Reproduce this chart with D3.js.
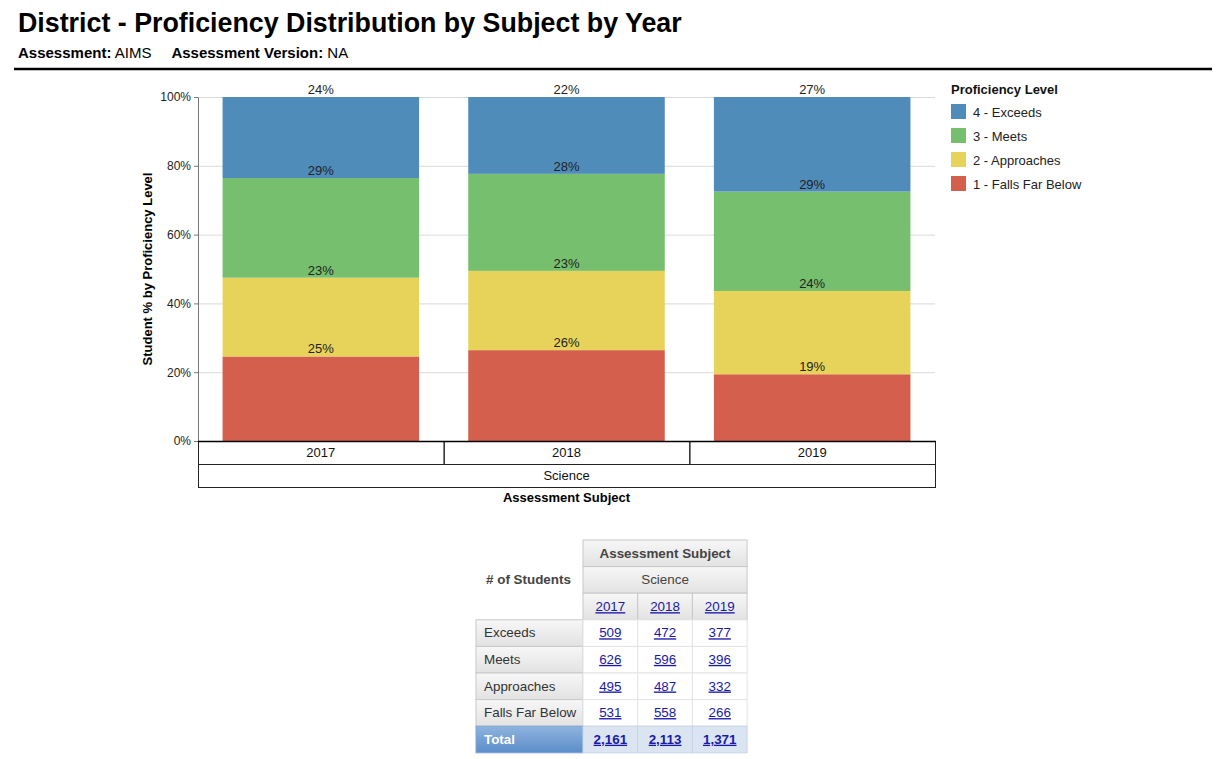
<!DOCTYPE html>
<html>
<head>
<meta charset="utf-8">
<script src="https://cdn.jsdelivr.net/npm/d3@7"></script>
<style>
  body { margin: 0; background: #fff; font-family: "Liberation Sans", Arial, sans-serif; }
  svg text { font-family: "Liberation Sans", Arial, sans-serif; }
</style>
</head>
<body>
<svg id="chart" width="1228" height="759"></svg>
<script>
// data
const years = ["2017", "2018", "2019"];
const subject = "Science";
const levels = ["Falls Far Below", "Approaches", "Meets", "Exceeds"];
const legendLabels = ["4 - Exceeds", "3 - Meets", "2 - Approaches", "1 - Falls Far Below"];
const levelColors = ["#d45f4c", "#e8d35a", "#76bf6e", "#4f8cba"];
const exceeds = [509, 472, 377];
const meets = [626, 596, 396];
const approaches = [495, 487, 332];
const fallsFarBelow = [531, 558, 266];
const totals = ["2,161", "2,113", "1,371"];
const yTicks = [0, 0.2, 0.4, 0.6, 0.8, 1];

const svg = d3.select("#chart");

// header
svg.append("text").attr("x", 18).attr("y", 32)
  .attr("font-size", 26.8).attr("font-weight", "bold").attr("fill", "#000")
  .text("District - Proficiency Distribution by Subject by Year");

const sub = svg.append("text").attr("x", 18).attr("y", 58).attr("font-size", 15).attr("fill", "#000");
sub.append("tspan").attr("font-weight", "bold").text("Assessment:");
sub.append("tspan").text(" AIMS");
sub.append("tspan").attr("dx", 20).attr("font-weight", "bold").text("Assessment Version:");
sub.append("tspan").text(" NA");

svg.append("line").attr("x1", 14).attr("x2", 1212).attr("y1", 69).attr("y2", 69)
  .attr("stroke", "#000").attr("stroke-width", 2.5);

// chart
const plot = { left: 198, right: 935, top: 97, bottom: 441 };

const counts = years.map((yr, i) => ({
  year: yr,
  "Falls Far Below": fallsFarBelow[i],
  "Approaches": approaches[i],
  "Meets": meets[i],
  "Exceeds": exceeds[i],
}));
const pct = counts.map((d) => {
  const t = d3.sum(levels, (k) => d[k]);
  const o = { year: d.year };
  levels.forEach((k) => (o[k] = d[k] / t));
  return o;
});

const x = d3.scaleBand().domain(years).range([plot.left, plot.right]).paddingInner(0.2).paddingOuter(0.1);
const xBox = d3.scaleBand().domain(years).range([plot.left, plot.right]);
const y = d3.scaleLinear().domain([0, 1]).range([plot.bottom, plot.top]);
const color = d3.scaleOrdinal().domain(levels).range(levelColors);

// gridlines
svg.append("g").selectAll("line").data(yTicks.filter((t) => t > 0)).join("line")
  .attr("x1", plot.left).attr("x2", plot.right)
  .attr("y1", (d) => y(d) + 0.5).attr("y2", (d) => y(d) + 0.5)
  .attr("stroke", "#d9d9d9");

// y axis
const yAxis = svg.append("g").attr("transform", `translate(${plot.left},0)`)
  .call(d3.axisLeft(y).tickValues(yTicks).tickFormat(d3.format(".0%")).tickSize(4).tickSizeOuter(0));
yAxis.select(".domain").attr("stroke", "#777");
yAxis.selectAll(".tick line").attr("stroke", "#777");
yAxis.selectAll(".tick text").attr("font-size", 12).attr("fill", "#222").attr("font-family", null);

svg.append("text")
  .attr("transform", `translate(152, ${(plot.top + plot.bottom) / 2}) rotate(-90)`)
  .attr("text-anchor", "middle").attr("font-size", 13).attr("font-weight", "bold").attr("fill", "#000")
  .text("Student % by Proficiency Level");

// stacked bars
const series = d3.stack().keys(levels)(pct);
const layers = svg.append("g").selectAll("g").data(series).join("g")
  .attr("fill", (s) => color(s.key));
layers.selectAll("rect").data((s) => s).join("rect")
  .attr("x", (d) => x(d.data.year))
  .attr("width", x.bandwidth())
  .attr("y", (d) => y(d[1]))
  .attr("height", (d) => y(d[0]) - y(d[1]));

// segment labels sit just above each segment top
svg.append("g").selectAll("g").data(series).join("g")
  .selectAll("text").data((s) => s.map((d) => ({ d, key: s.key }))).join("text")
  .attr("x", (o) => x(o.d.data.year) + x.bandwidth() / 2)
  .attr("y", (o) => y(o.d[1]) - 3)
  .attr("text-anchor", "middle").attr("font-size", 13).attr("fill", "#222")
  .text((o) => d3.format(".0%")(o.d.data[o.key]));

// category boxes
const boxH = 23;
svg.append("g").selectAll("rect").data(years).join("rect")
  .attr("x", (d) => xBox(d) + 0.5).attr("y", plot.bottom + 0.5)
  .attr("width", xBox.bandwidth()).attr("height", boxH)
  .attr("fill", "none").attr("stroke", "#222");
svg.append("g").selectAll("text").data(years).join("text")
  .attr("x", (d) => xBox(d) + xBox.bandwidth() / 2).attr("y", plot.bottom + 16)
  .attr("text-anchor", "middle").attr("font-size", 13).attr("fill", "#111").text((d) => d);
svg.append("rect").attr("x", plot.left + 0.5).attr("y", plot.bottom + boxH + 0.5)
  .attr("width", plot.right - plot.left).attr("height", boxH)
  .attr("fill", "none").attr("stroke", "#222");
svg.append("text").attr("x", (plot.left + plot.right) / 2).attr("y", plot.bottom + boxH + 16)
  .attr("text-anchor", "middle").attr("font-size", 13).attr("fill", "#111").text(subject);
svg.append("line").attr("x1", plot.left).attr("x2", plot.right + 1)
  .attr("y1", plot.bottom + 0.5).attr("y2", plot.bottom + 0.5).attr("stroke", "#000").attr("stroke-width", 1.5);
svg.append("text").attr("x", (plot.left + plot.right) / 2).attr("y", 502)
  .attr("text-anchor", "middle").attr("font-size", 13).attr("font-weight", "bold").attr("fill", "#000")
  .text("Assessment Subject");

// legend
const legend = svg.append("g").attr("transform", "translate(951,0)");
legend.append("text").attr("x", 0).attr("y", 94).attr("font-size", 13).attr("font-weight", "bold")
  .attr("fill", "#111").text("Proficiency Level");
const legItems = legend.selectAll("g.item").data(legendLabels).join("g").attr("class", "item")
  .attr("transform", (d, i) => `translate(0, ${104 + i * 24})`);
legItems.append("rect").attr("width", 15).attr("height", 15)
  .attr("fill", (d, i) => levelColors[levelColors.length - 1 - i]);
legItems.append("text").attr("x", 22).attr("y", 12.5).attr("font-size", 13).attr("fill", "#222").text((d) => d);

// table
const defs = svg.append("defs");
const grad = (id, c0, c1) => {
  const g = defs.append("linearGradient").attr("id", id).attr("x1", 0).attr("x2", 0).attr("y1", 0).attr("y2", 1);
  g.append("stop").attr("offset", "0%").attr("stop-color", c0);
  g.append("stop").attr("offset", "100%").attr("stop-color", c1);
};
grad("hdr", "#f7f7f7", "#e2e2e2");
grad("tot", "#8fb3de", "#5b8dc9");

const tbl = { left: 476, rowHeadW: 107, colW: 54.7, top: 540, rowH: 26.6 };
const colX = d3.scaleBand().domain(years).range([tbl.left + tbl.rowHeadW, tbl.left + tbl.rowHeadW + tbl.colW * 3]);
const rowNames = ["Exceeds", "Meets", "Approaches", "Falls Far Below", "Total"];
const rowVals = [exceeds, meets, approaches, fallsFarBelow, totals];
const rowY = d3.scaleBand().domain(rowNames).range([tbl.top + tbl.rowH * 3, tbl.top + tbl.rowH * 8]);
const tg = svg.append("g");
const c0 = colX(years[0]);
const tw = tbl.colW * 3;
const fs = 13.4;

// header rows
[["Assessment Subject", true], [subject, false]].forEach(([label, bold], i) => {
  tg.append("rect").attr("x", c0).attr("y", tbl.top + i * tbl.rowH).attr("width", tw).attr("height", tbl.rowH)
    .attr("fill", "url(#hdr)").attr("stroke", "#c8c8c8");
  tg.append("text").attr("x", c0 + tw / 2).attr("y", tbl.top + i * tbl.rowH + 17.5)
    .attr("text-anchor", "middle").attr("font-size", fs).attr("font-weight", bold ? "bold" : null)
    .attr("fill", "#444").text(label);
});
years.forEach((yr) => {
  tg.append("rect").attr("x", colX(yr)).attr("y", tbl.top + 2 * tbl.rowH).attr("width", colX.bandwidth()).attr("height", tbl.rowH)
    .attr("fill", "url(#hdr)").attr("stroke", "#c8c8c8");
  tg.append("text").attr("x", colX(yr) + colX.bandwidth() / 2).attr("y", tbl.top + 2 * tbl.rowH + 18)
    .attr("text-anchor", "middle").attr("font-size", fs).attr("fill", "#1a1aa8")
    .attr("text-decoration", "underline").text(yr);
});
tg.append("text").attr("x", tbl.left + tbl.rowHeadW / 2 - 1).attr("y", tbl.top + tbl.rowH * 1.5 + 4)
  .attr("text-anchor", "middle").attr("font-size", fs).attr("font-weight", "bold").attr("fill", "#444")
  .text("# of Students");

// body rows
rowNames.forEach((name, r) => {
  const isTot = name === "Total";
  const yy = rowY(name);
  tg.append("rect").attr("x", tbl.left).attr("y", yy).attr("width", tbl.rowHeadW).attr("height", tbl.rowH)
    .attr("fill", isTot ? "url(#tot)" : "url(#hdr)").attr("stroke", isTot ? "#7fa5d3" : "#c8c8c8");
  tg.append("text").attr("x", tbl.left + 8).attr("y", yy + 17.5).attr("font-size", fs)
    .attr("font-weight", isTot ? "bold" : null).attr("fill", isTot ? "#fff" : "#333").text(name);
  years.forEach((yr, i) => {
    tg.append("rect").attr("x", colX(yr)).attr("y", yy).attr("width", colX.bandwidth()).attr("height", tbl.rowH)
      .attr("fill", isTot ? "#dbe5f1" : "#fff").attr("stroke", isTot ? "#c7d5e8" : "#e4e4e4");
    tg.append("text").attr("x", colX(yr) + colX.bandwidth() / 2).attr("y", yy + 17.5)
      .attr("text-anchor", "middle").attr("font-size", fs).attr("font-weight", isTot ? "bold" : null)
      .attr("fill", "#1a1aa8").attr("text-decoration", "underline").text(rowVals[r][i]);
  });
});
</script>
</body>
</html>
